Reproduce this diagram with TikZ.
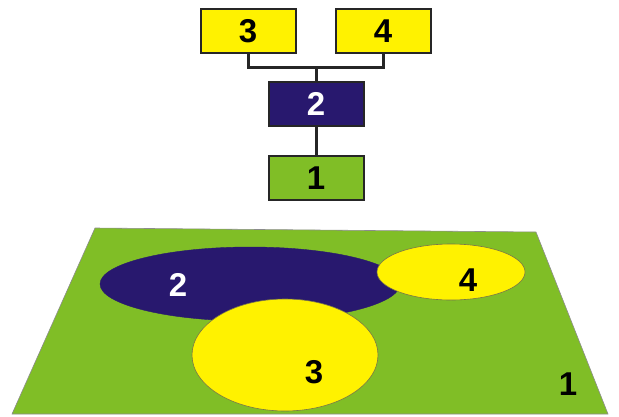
\documentclass[tikz,border=0pt]{standalone}
\usepackage{fontspec}
\setmainfont{Liberation Sans}
\definecolor{ygreen}{RGB}{128,190,38}
\definecolor{navy}{RGB}{40,24,110}
\definecolor{yel}{RGB}{255,242,0}
\begin{document}
\begin{tikzpicture}[x=1pt,y=-1pt,
  box/.style={draw=black!85,line width=2pt,minimum width=95pt,minimum height=44pt,inner sep=0pt,font=\fontsize{33}{33}\selectfont\bfseries},
  link/.style={draw=black!85,line width=3pt},
  lab/.style={font=\fontsize{33}{33}\selectfont\bfseries}]
\useasboundingbox (0,0) rectangle (619,416);
% tree
\node[box,fill=yel] (b3) at (248,31) {3};
\node[box,fill=yel] (b4) at (383,31) {4};
\node[box,fill=navy,text=white] (b2) at (316,104) {2};
\node[box,fill=ygreen] (b1) at (316,178) {1};
\coordinate (j) at (316,67);
\draw[link] (b3.south) |- (j) -| (b4.south);
\draw[link] (j) -- (b2.north);
\draw[link] (b2.south) -- (b1.north);
% plane
\draw[fill=ygreen,draw=black!45,line width=0.6pt] (95,228) -- (536,232) -- (608,414) -- (12,414) -- cycle;
\draw[fill=navy,draw=navy] (250,284) ellipse [x radius=150,y radius=37];
\draw[fill=yel,draw=black!60!yellow,line width=0.6pt] (451,272) ellipse [x radius=74,y radius=28];
\draw[fill=yel,draw=black!60!yellow,line width=0.6pt] (285,355) ellipse [x radius=93,y radius=56];
\node[lab,text=white] (l2) at (178,285) {2};
\node[lab] (l4) at (468,280) {4};
\node[lab] (l3) at (314,372) {3};
\node[lab] (l1) at (568,384) {1};
\end{tikzpicture}
\end{document}
